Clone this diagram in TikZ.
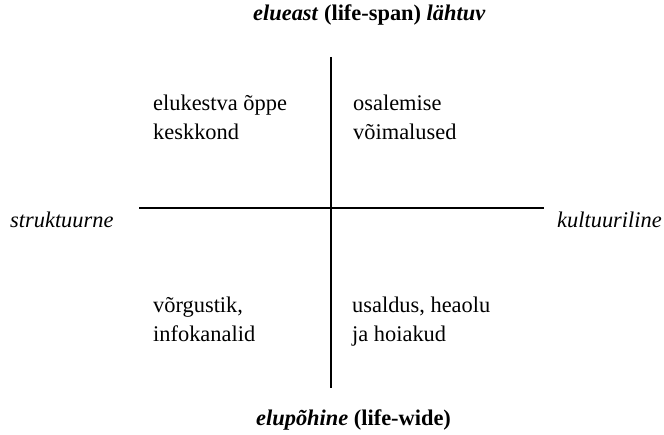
\documentclass[tikz,border=0pt]{standalone}
\usepackage{fontspec}
\setmainfont{Liberation Serif}
\begin{document}
\begin{tikzpicture}[x=1pt,y=-1pt,
  lbl/.style={inner sep=0pt, anchor=base west, font=\fontsize{22.4}{29}\selectfont, align=left},
  axis/.style={line width=1.6pt, black}]
\useasboundingbox (0,0) rectangle (664,435);
\coordinate (vt) at (331,57);
\coordinate (vb) at (331,388);
\coordinate (hl) at (139,208);
\coordinate (hr) at (544,208);
\draw[axis] (vt) -- (vb);
\draw[axis] (hl) -- (hr);
\node[lbl] (top) at (253,21) {\textbf{\textit{elueast} (life-span) \textit{lähtuv}}};
\node[lbl] (bot) at (256,425) {\textbf{\textit{elupõhine} (life-wide)}};
\node[lbl] (left) at (10,228) {\textit{struktuurne}};
\node[lbl] (right) at (557,228) {\textit{kultuuriline}};
\node[lbl] (tl) at (153,140) {elukestva õppe\\keskkond};
\node[lbl] (tr) at (353,140) {osalemise\\võimalused};
\node[lbl] (bl) at (153,342) {võrgustik,\\infokanalid};
\node[lbl] (br) at (352,342) {usaldus, heaolu\\ja hoiakud};
\end{tikzpicture}
\end{document}
